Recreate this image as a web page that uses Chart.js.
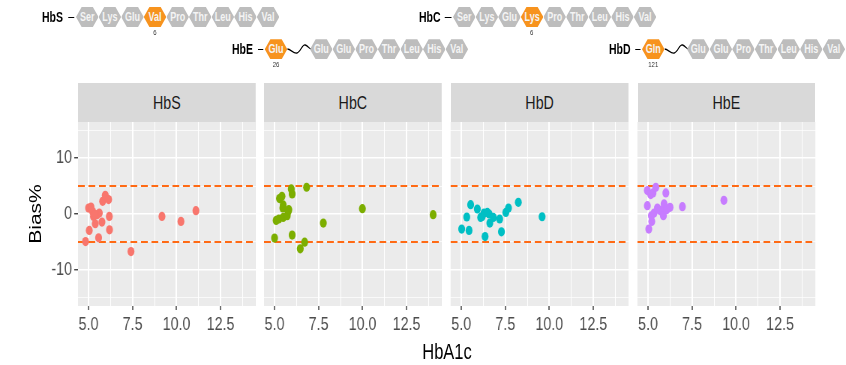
<!DOCTYPE html>
<html>
<head>
<meta charset="utf-8">
<script src="https://cdn.jsdelivr.net/npm/chart.js@4.4.1/dist/chart.umd.min.js"></script>
<style>
body{margin:0;background:#fff;overflow:hidden;}
/* the original figure is squeezed horizontally, so lay out wide and squeeze */
#stage{position:relative;width:1128px;height:365px;transform:scaleX(0.75);transform-origin:0 0;font-family:"Liberation Sans",Arial,sans-serif;}
.abs{position:absolute;}
.hex{position:absolute;width:30.1px;height:20px;clip-path:polygon(0 50%,25% 0,75% 0,100% 50%,75% 100%,25% 100%);background:#bdbdbd;color:#f4f4f4;font-weight:bold;font-size:12px;display:flex;align-items:center;justify-content:center;}
.hex.mut{background:#f7931e;}
.hb{position:absolute;font-weight:bold;font-size:14px;color:#000;line-height:20px;}
.dash{position:absolute;height:1.5px;background:#000;}
.pos{position:absolute;font-size:8px;color:#333;transform:translateX(-50%);}
.strip{position:absolute;top:83px;height:39px;background:#d9d9d9;color:#1a1a1a;font-size:19px;display:flex;align-items:center;justify-content:center;}
canvas{position:absolute;}
</style>
</head>
<body>
<div id="stage">
  <div class="abs" style="left:47px;top:214px;transform:translate(-50%,-50%) rotate(-90deg);font-size:21px;color:#000;white-space:nowrap;">Bias%</div>
  <div class="abs" style="left:596px;top:352px;transform:translate(-50%,-50%);font-size:22px;color:#000;white-space:nowrap;">HbA1c</div>
</div>
<script>
// variants
const variants = ['HbS', 'HbC', 'HbD', 'HbE'];
const colors = ['#F8766D', '#7CAE00', '#00BFC4', '#C77CFF'];

// HbA1c (x) and Bias% (y) per variant
const hbsX = [4.83, 5.0, 5.14, 5.04, 5.23, 5.28, 5.38, 5.48, 5.61, 5.57, 5.76, 5.8, 5.95, 6.14, 6.18, 6.19, 7.41, 9.17, 10.25, 11.1, 5.34];
const hbsY = [-4.94, 1.07, 1.25, -2.95, 0.47, -0.43, -1.75, -0.13, 0.18, -4.27, -1.45, 2.27, 3.36, 2.58, -0.43, -2.83, -6.74, -0.43, -1.33, 0.6, -0.1];
const hbcX = [5.0, 5.09, 5.24, 5.28, 5.42, 5.49, 5.47, 5.49, 5.72, 5.77, 5.81, 5.95, 6.0, 6.0, 6.46, 6.71, 6.82, 7.77, 9.99, 14.01];
const hbcY = [-4.32, -1.15, -0.9, 2.76, 3.17, 1.62, 1.08, -0.61, -0.31, 0.47, 0.77, 4.5, 3.6, -3.78, -6.25, -5.05, 4.8, -1.62, 0.95, -0.13];
const hbdX = [5.02, 5.31, 5.44, 5.53, 5.91, 6.1, 6.19, 6.29, 6.35, 6.48, 6.58, 6.62, 6.82, 7.18, 7.28, 7.53, 7.68, 8.24, 9.59];
const hbdY = [-2.7, -0.54, -2.95, 1.68, 0.9, -0.61, -0.43, 0.18, -4.04, 0.29, 0, -1.62, -0.61, -0.9, -3.19, 0.29, 1.08, 2.09, -0.49];
const hbeX = [4.96, 5.15, 5.28, 5.44, 4.96, 5.04, 5.21, 5.19, 5.34, 5.53, 5.67, 5.82, 5.87, 5.91, 6.01, 6.06, 6.25, 6.95, 9.31];
const hbeY = [4.2, 3.48, 3.78, 4.79, 1.5, -2.7, -1.33, -0.31, 0.18, 1.08, 0.65, 0.29, -0.31, 1.8, 3.78, 0.77, 1.19, 1.32, 2.45];

// limits of agreement (dashed)
const limits = [-5, 5];

// axes
const xMin = 4.4, xMax = 14.5, yMin = -16.5, yMax = 16.5;
const xTicks = [5, 6.25, 7.5, 8.75, 10, 11.25, 12.5, 13.75];
const xMajor = [5, 7.5, 10, 12.5];
const yTicks = [-15, -10, -5, 0, 5, 10, 15];
const yMajor = [-10, 0, 10];

// peptide sequences for the header
const hbsSeq = ['Ser', 'Lys', 'Glu', 'Val', 'Pro', 'Thr', 'Leu', 'His', 'Val'];
const hbcSeq = ['Ser', 'Lys', 'Glu', 'Lys', 'Pro', 'Thr', 'Leu', 'His', 'Val'];
const tailSeq = ['Glu', 'Glu', 'Pro', 'Thr', 'Leu', 'His', 'Val'];

(function(){
  const stage = document.getElementById('stage');
  function el(cls, left, top, html, extra) {
    const d = document.createElement('div');
    d.className = cls;
    d.style.left = left + 'px';
    d.style.top = top + 'px';
    if (html !== undefined) d.textContent = html;
    if (extra) Object.assign(d.style, extra);
    stage.appendChild(d);
    return d;
  }
  function hexRow(seq, x0, cy, mutIdx) {
    seq.forEach((aa, i) => {
      el('hex' + (i === mutIdx ? ' mut' : ''), x0 + i * 30.13, cy - 10, aa);
    });
  }
  function wave(x, cy) {
    const s = document.createElementNS('http://www.w3.org/2000/svg', 'svg');
    s.setAttribute('width', 32); s.setAttribute('height', 16);
    s.style.position = 'absolute'; s.style.left = x + 'px'; s.style.top = (cy - 8) + 'px';
    s.innerHTML = '<path d="M0 8 C5 8 8 13 13 12 S20 3 24 4 S29 8 32 8" stroke="#000" fill="none" stroke-width="1.3"/>';
    stage.appendChild(s);
  }

  // row 1: HbS and HbC
  el('hb', 56, 7, 'HbS');
  el('dash', 90.7, 16.5, undefined, {width: '8px'});
  hexRow(hbsSeq, 101.3, 17, 3);
  el('pos', 206.5, 28, '6');

  el('hb', 558.7, 7, 'HbC');
  el('dash', 593.3, 16.5, undefined, {width: '9px'});
  hexRow(hbcSeq, 604, 17, 3);
  el('pos', 709, 28, '6');

  // row 2: HbE and HbD
  el('hb', 309.3, 39.3, 'HbE');
  el('dash', 344, 48.8, undefined, {width: '7px'});
  hexRow(['Glu'], 353, 49.3, 0);
  wave(382.5, 49.3);
  hexRow(tailSeq, 413.3, 49.3, -1);
  el('pos', 368, 60, '26');

  el('hb', 812, 39.3, 'HbD');
  el('dash', 846.7, 48.8, undefined, {width: '7px'});
  hexRow(['Gln'], 856, 49.3, 0);
  wave(886, 49.3);
  hexRow(tailSeq, 916, 49.3, -1);
  el('pos', 871, 60, '121');

  const panelBg = {
    id: 'panelBg',
    beforeDraw(chart) {
      const a = chart.chartArea, c = chart.ctx;
      c.save();
      c.fillStyle = '#ebebeb';
      c.fillRect(a.left, a.top, a.right - a.left, a.bottom - a.top);
      c.restore();
    }
  };

  const xs = [hbsX, hbcX, hbdX, hbeX];
  const ys = [hbsY, hbcY, hbdY, hbeY];
  const panelLeft = [104, 352, 601, 850];
  const panelW = 237, panelH = 184, axisH = 40, axisW = 40;
  const font = {family: 'Liberation Sans', size: 19};

  variants.forEach((name, i) => {
    el('strip', panelLeft[i], 83, name, {width: panelW + 'px'});
    const yw = i === 0 ? axisW : 0;
    const cv = document.createElement('canvas');
    cv.width = panelW + yw;
    cv.height = panelH + axisH;
    cv.style.left = (panelLeft[i] - yw) + 'px';
    cv.style.top = '122px';
    stage.appendChild(cv);

    const pts = xs[i].map((x, k) => ({x: x, y: ys[i][k]}));
    const datasets = [{
      type: 'scatter',
      data: pts,
      backgroundColor: colors[i],
      borderWidth: 0,
      pointRadius: 4.6,
    }];
    limits.forEach(v => {
      datasets.push({
        type: 'line',
        data: [{x: xMin, y: v}, {x: xMax, y: v}],
        borderColor: '#ff6a14',
        borderWidth: 2,
        borderDash: [9, 5],
        pointRadius: 0,
      });
    });

    new Chart(cv.getContext('2d'), {
      data: {datasets: datasets},
      options: {
        responsive: false,
        animation: false,
        layout: {padding: 0, autoPadding: false},
        plugins: {legend: {display: false}, tooltip: {enabled: false}},
        scales: {
          x: {
            type: 'linear', min: xMin, max: xMax,
            afterBuildTicks: s => { s.ticks = xTicks.map(v => ({value: v})); },
            afterFit: s => { s.height = axisH; s.paddingLeft = 0; s.paddingRight = 0; },
            border: {display: false},
            grid: {
              color: '#ffffff',
              lineWidth: c => xMajor.includes(c.tick.value) ? 2 : 1,
              tickColor: c => xMajor.includes(c.tick.value) ? '#333333' : 'rgba(0,0,0,0)',
              tickLength: 4,
              tickWidth: 1.4,
            },
            ticks: {
              autoSkip: false, maxRotation: 0, padding: 3,
              color: '#4d4d4d', font: font,
              callback: v => xMajor.includes(v) ? v.toFixed(1) : '',
            },
          },
          y: {
            type: 'linear', min: yMin, max: yMax,
            afterBuildTicks: s => { s.ticks = yTicks.map(v => ({value: v})); },
            afterFit: s => { s.width = yw; s.paddingTop = 0; s.paddingBottom = 0; },
            border: {display: false},
            grid: {
              color: '#ffffff',
              lineWidth: c => yMajor.includes(c.tick.value) ? 1.5 : 0.7,
              tickColor: c => yMajor.includes(c.tick.value) ? '#333333' : 'rgba(0,0,0,0)',
              tickLength: 5,
              tickWidth: 1.3,
              drawTicks: i === 0,
            },
            ticks: {
              display: i === 0, padding: 3,
              color: '#4d4d4d', font: font,
              callback: v => yMajor.includes(v) ? String(v) : '',
            },
          },
        },
      },
      plugins: [panelBg],
    });
  });
})();
</script>
</body>
</html>
